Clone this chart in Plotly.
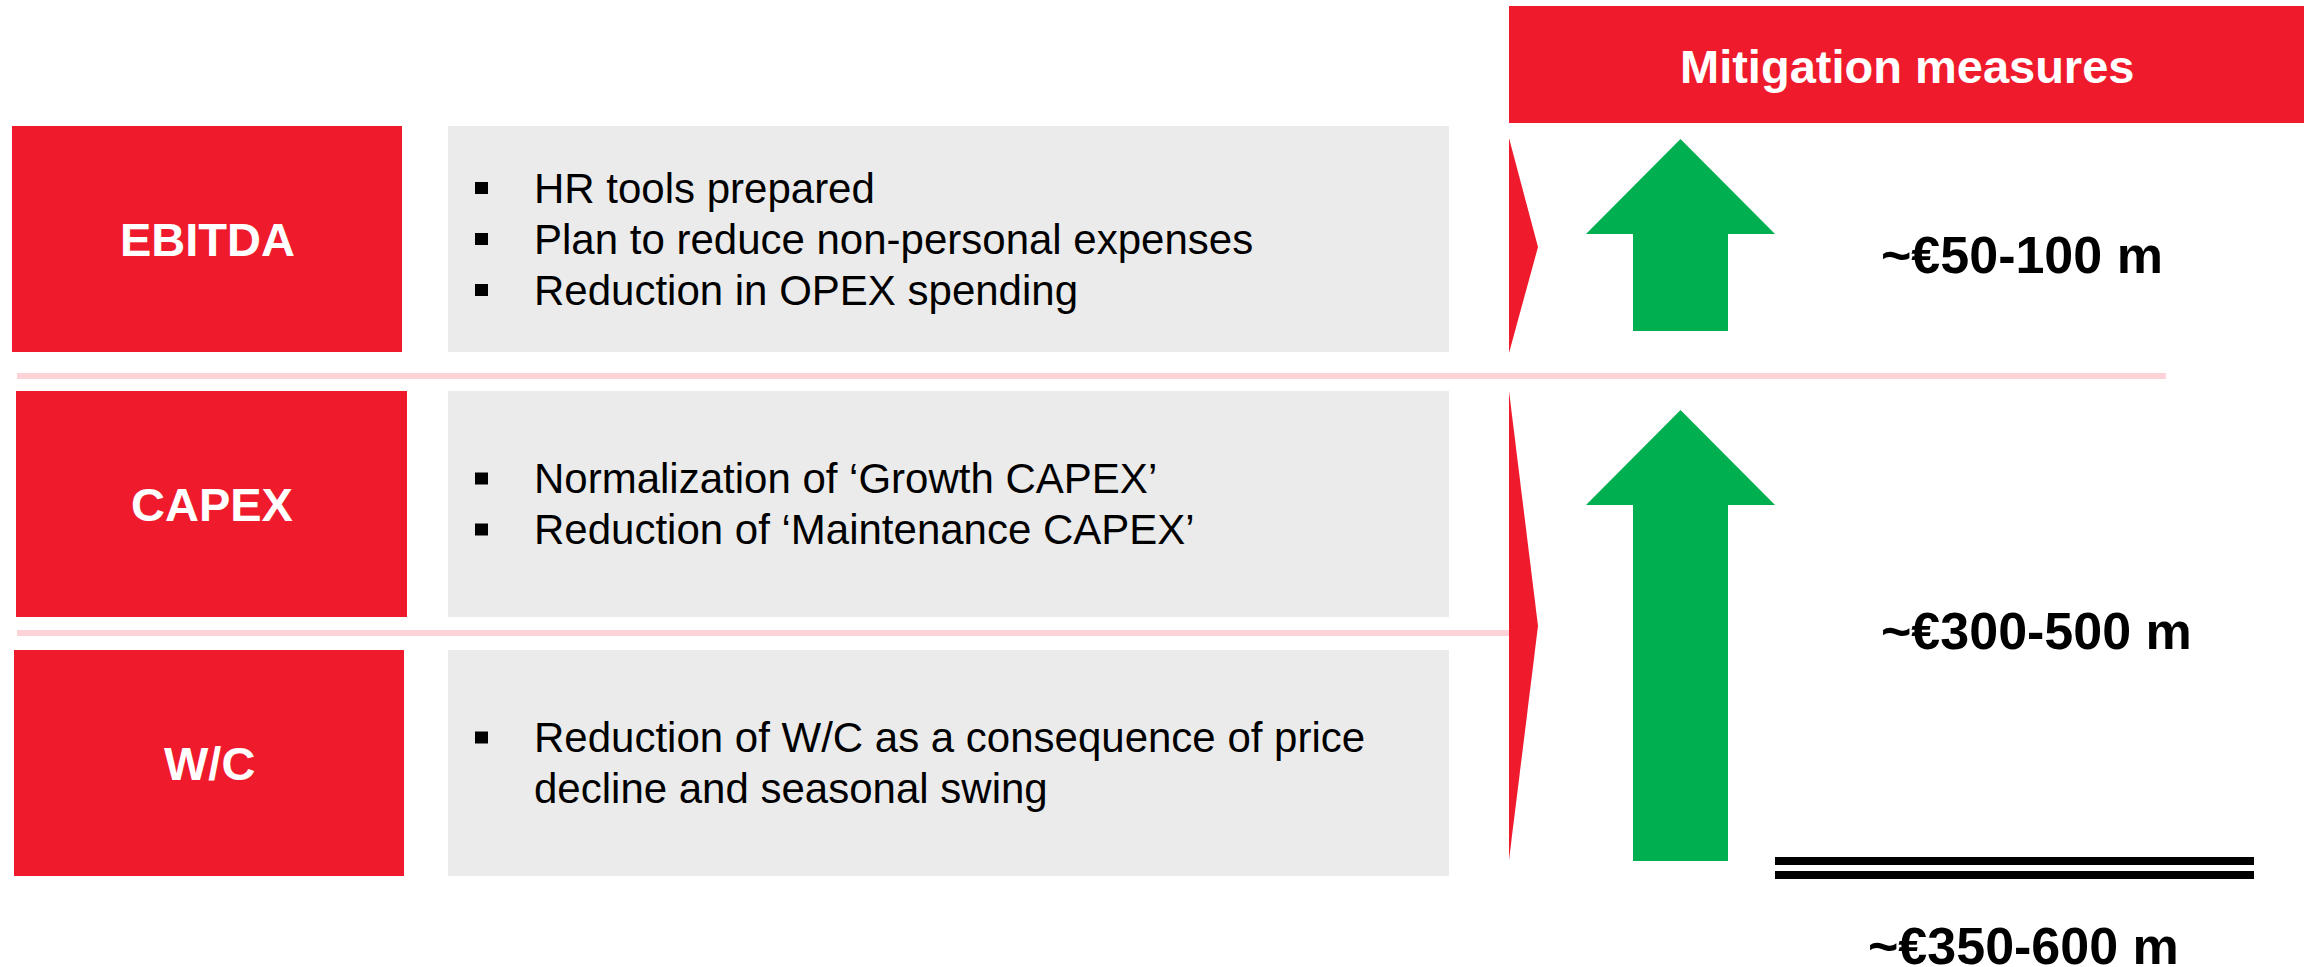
import plotly.graph_objects as go

# ---------------- data ----------------
categories = ["EBITDA", "CAPEX", "W/C"]
bullet_lines = [
    [("HR tools prepared", True), ("Plan to reduce non-personal expenses", True), ("Reduction in OPEX spending", True)],
    [("Normalization of \u2018Growth CAPEX\u2019", True), ("Reduction of \u2018Maintenance CAPEX\u2019", True)],
    [("Reduction of W/C as a consequence of price", True), ("decline and seasonal swing", False)],
]
header_text = "Mitigation measures"
impact_labels = ["~\u20ac50-100 m", "~\u20ac300-500 m"]
total_label = "~\u20ac350-600 m"

# ---------------- styling / layout ----------------
W, H = 2312, 967
RED = "#EF1B2D"
GREY = "#EBEBEB"
PINK = "#FCD4D7"
GREEN = "#00AF50"
FONT = "Arial, Liberation Sans, sans-serif"

rows = [  # (top, bottom, red box x0, x1)
    (126, 352, 12, 402),
    (391, 617, 16, 407),
    (650, 876, 14, 404),
]
grey_x = (448, 1449)
line_gap = 51
body_fs = 42
label_fs = 47
value_fs = 52

shapes = []
annotations = []

for i, (cat, lines) in enumerate(zip(categories, bullet_lines)):
    top, bot, rx0, rx1 = rows[i]
    shapes.append(dict(type="rect", x0=rx0, x1=rx1, y0=top, y1=bot, fillcolor=RED, line_width=0, layer="below"))
    shapes.append(dict(type="rect", x0=grey_x[0], x1=grey_x[1], y0=top, y1=bot, fillcolor=GREY, line_width=0, layer="below"))
    cy = (top + bot) / 2
    annotations.append(dict(x=(rx0 + rx1) / 2, y=cy, text="<b>%s</b>" % cat, showarrow=False,
                            xanchor="center", yanchor="middle",
                            font=dict(family=FONT, size=label_fs, color="white")))
    n = len(lines)
    for j, (txt, has_bullet) in enumerate(lines):
        ly = cy + (j - (n - 1) / 2) * line_gap
        annotations.append(dict(x=532, y=ly, text=txt, showarrow=False, xanchor="left", yanchor="middle",
                                font=dict(family=FONT, size=body_fs, color="black")))
        if has_bullet:
            shapes.append(dict(type="rect", x0=475, x1=488, y0=ly - 6, y1=ly + 6, fillcolor="black", line_width=0))

# pink separators
shapes.append(dict(type="rect", x0=17, x1=2166, y0=373, y1=379, fillcolor=PINK, line_width=0, layer="below"))
shapes.append(dict(type="rect", x0=17, x1=1509, y0=630, y1=636, fillcolor=PINK, line_width=0, layer="below"))

# header
shapes.append(dict(type="rect", x0=1509, x1=2304, y0=6, y1=123, fillcolor=RED, line_width=0))
annotations.append(dict(x=(1509 + 2304) / 2, y=66, text="<b>%s</b>" % header_text, showarrow=False,
                        xanchor="center", yanchor="middle",
                        font=dict(family=FONT, size=label_fs, color="white")))

# red chevrons (braces)
for (t, tip, b) in [(138, 247, 353), (391, 626, 860)]:
    shapes.append(dict(type="path", path="M 1509 %d L 1538 %d L 1509 %d Z" % (t, tip, b),
                       fillcolor=RED, line_width=0))

# green arrows
def arrow_path(tip, head_base, bottom, cx=1680.5, hw=94.5, sw=47.5):
    return ("M %s %s L %s %s L %s %s L %s %s L %s %s L %s %s L %s %s Z" % (
        cx, tip, cx + hw, head_base, cx + sw, head_base, cx + sw, bottom,
        cx - sw, bottom, cx - sw, head_base, cx - hw, head_base))

for (tip, hb, bt) in [(139, 234, 331), (410, 505, 861)]:
    shapes.append(dict(type="path", path=arrow_path(tip, hb, bt), fillcolor=GREEN, line_width=0))

# values
for lab, (x, y) in zip(impact_labels, [(1879, 255), (1879, 631)]):
    annotations.append(dict(x=x, y=y, text="<b>%s</b>" % lab, showarrow=False, xanchor="left", yanchor="middle",
                            font=dict(family=FONT, size=value_fs, color="black")))

# double total line
shapes.append(dict(type="rect", x0=1775, x1=2254, y0=857, y1=865, fillcolor="black", line_width=0))
shapes.append(dict(type="rect", x0=1775, x1=2254, y0=871, y1=879, fillcolor="black", line_width=0))
annotations.append(dict(x=1866, y=946, text="<b>%s</b>" % total_label, showarrow=False, xanchor="left",
                        yanchor="middle", font=dict(family=FONT, size=value_fs, color="black")))

fig = go.Figure()
fig.update_layout(
    width=W, height=H,
    margin=dict(l=0, r=0, t=0, b=0),
    paper_bgcolor="white", plot_bgcolor="white",
    xaxis=dict(range=[0, W], visible=False, fixedrange=True),
    yaxis=dict(range=[H, 0], visible=False, fixedrange=True),
    shapes=shapes, annotations=annotations, showlegend=False,
)
fig.write_html("out.html", config={"displayModeBar": False},
               post_script="document.body.style.margin='0px';document.body.style.overflow='hidden';")
